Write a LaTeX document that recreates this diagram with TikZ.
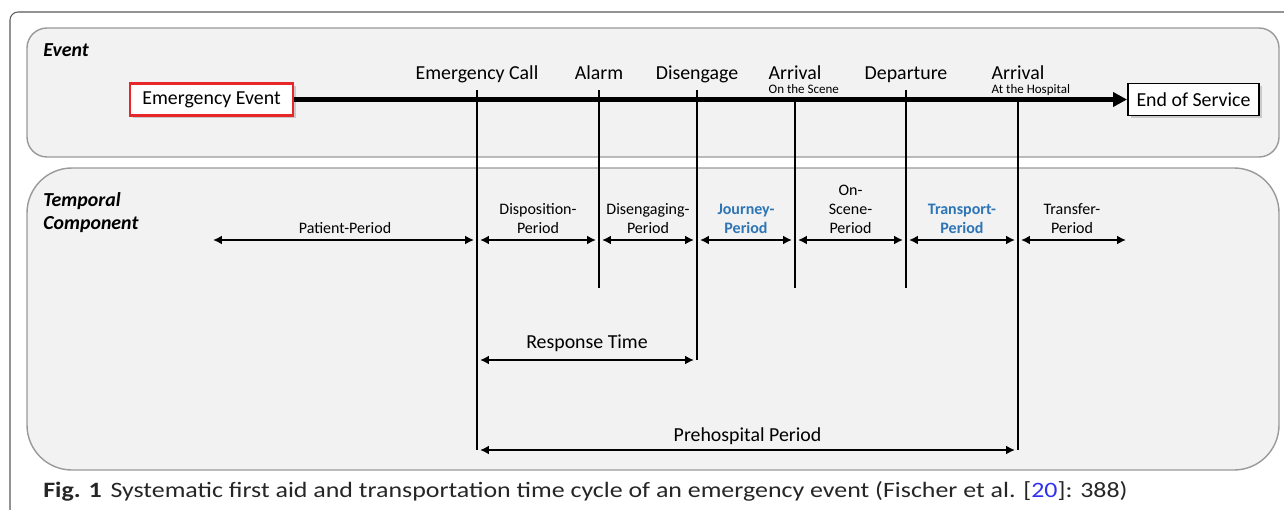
\documentclass[tikz,border=0pt]{standalone}
\usepackage{fontspec}
\setmainfont{Carlito}
\newfontfamily\capfont[FakeStretch=1.18]{Carlito}
\usetikzlibrary{positioning,arrows.meta,shadows}

\definecolor{panelfill}{HTML}{F2F2F2}
\definecolor{paneldraw}{HTML}{9A9A9A}
\definecolor{framedraw}{HTML}{595959}
\definecolor{phaseblue}{HTML}{2E75B6}
\definecolor{refblue}{HTML}{3030F0}
\definecolor{alertred}{HTML}{E82828}

\newcommand{\lblsize}{\fontsize{11.3}{13}\selectfont}
\newcommand{\persize}{\fontsize{9.1}{10.8}\selectfont}
\newcommand{\subsize}{\fontsize{7.4}{8}\selectfont}

\tikzset{
  panel/.style={draw=paneldraw, fill=panelfill, line width=0.8pt},
  endbox/.style={draw, fill=white, line width=1.1pt, minimum height=0.64cm, font=\lblsize,
    drop shadow={shadow xshift=1.5pt, shadow yshift=-1.5pt, opacity=0.35}},
  evlbl/.style={anchor=base, inner sep=0pt, font=\lblsize},
  sublbl/.style={anchor=north west, inner sep=0pt, yshift=-0.08cm, font=\subsize},
  tick/.style={line width=1.3pt},
  period/.style={{Latex[length=5pt,width=5pt]}-{Latex[length=5pt,width=5pt]}, line width=1.4pt,
    shorten <=0.06cm, shorten >=0.06cm},
  perlbl/.style={anchor=south, align=center, inner sep=0pt, yshift=0.1cm, font=\persize},
  phase/.style={text=phaseblue, font=\persize\bfseries},
  spanlbl/.style={anchor=base, inner sep=0pt, font=\lblsize},
  heading/.style={anchor=base west, align=left, inner sep=0pt, font=\lblsize\bfseries\itshape}
}

\begin{document}
\begin{tikzpicture}[x=0.02cm, y=-0.02cm]
  \useasboundingbox (0,0) rectangle (1284,510);

  % frame and panels
  \draw[framedraw, line width=0.6pt, rounded corners=0.16cm] (10,510) -- (10,12) -- (1284,12);
  \draw[panel, rounded corners=0.4cm] (27,28) rectangle (1279,157);
  \draw[panel, rounded corners=0.9cm] (27,168) rectangle (1279,470);

  \node[heading] (evHead) at (43,57) {Event};
  \node[heading] (tcHead) at (43,229) {Temporal\\Component};

  % event line
  \node[endbox, draw=alertred, line width=1.4pt, minimum width=3.26cm] (emEv) at (211.5,99.5) {Emergency Event};
  \node[endbox, minimum width=2.62cm] (endSv) at (1193.5,99.5) {End of Service};
  \draw[line width=2.8pt, -{Triangle[length=8pt,width=8pt]}] (emEv) -- (endSv);

  \foreach \nm/\x/\top/\bot/\txt in {call/477/90/450/Emergency Call, alarm/599/90/288/Alarm,
      diseng/697/90/360/Disengage, arrS/795/102/288/Arrival, depart/906/90/288/Departure,
      arrH/1018/102/450/Arrival}{
    \coordinate (\nm-t) at (\x,\top);
    \coordinate (\nm-b) at (\x,\bot);
    \coordinate (\nm) at (\x,240);
    \draw[tick] (\nm-t) -- (\nm-b);
    \node[evlbl] (\nm-l) at (\x,80) {\txt};
  }
  \node[sublbl] (arrS-s) at (arrS-l.south west) {On the Scene};
  \node[sublbl] (arrH-s) at (arrH-l.south west) {At the Hospital};

  % periods
  \coordinate (patL) at (213,240);
  \coordinate (trR) at (1126,240);
  \draw[period, shorten <=0pt] (patL) -- node[perlbl] {Patient-Period} (call);
  \draw[period] (call) -- node[perlbl] {Disposition-\\Period} (alarm);
  \draw[period] (alarm) -- node[perlbl] {Disengaging-\\Period} (diseng);
  \draw[period] (diseng) -- node[perlbl, phase] {Journey-\\Period} (arrS);
  \draw[period] (arrS) -- node[perlbl] {On-\\Scene-\\Period} (depart);
  \draw[period] (depart) -- node[perlbl, phase] {Transport-\\Period} (arrH);
  \draw[period, shorten >=0pt] (arrH) -- node[perlbl] {Transfer-\\Period} (trR);

  % spans
  \coordinate (rtL) at (477,360);
  \draw[period] (rtL) -- node[spanlbl, yshift=0.24cm] {Response Time} (diseng-b);
  \draw[period] (call-b) -- node[spanlbl, yshift=0.18cm] {Prehospital Period} (arrH-b);

  % caption
  \node[anchor=base west, inner sep=0pt, text=black!85, font=\capfont\fontsize{12.5}{14}\selectfont] (figCap) at (43,497)
    {\textbf{Fig. 1}\hspace{0.4em}Systematic first aid and transportation time cycle of an emergency event (Fischer et al. [\textcolor{refblue}{20}]: 388)};
\end{tikzpicture}
\end{document}
